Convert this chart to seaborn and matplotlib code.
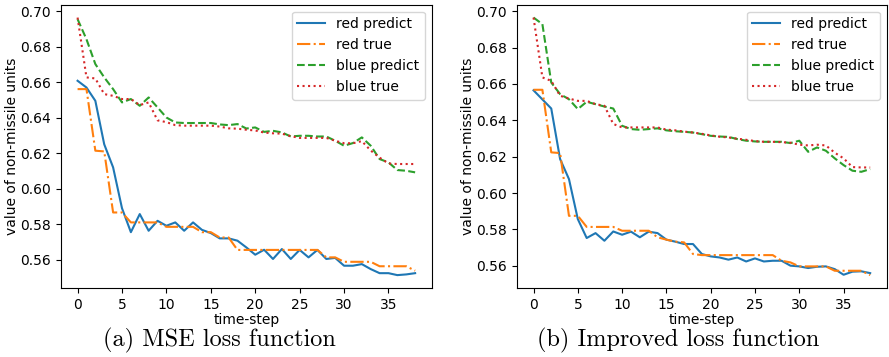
import numpy as np
import seaborn as sns
import matplotlib
matplotlib.use("Agg")
import matplotlib.pyplot as plt

steps = np.arange(39)
series_labels = ["red predict", "red true", "blue predict", "blue true"]

# (a) MSE loss function
red_predict_a = [0.6608, 0.6570, 0.6495, 0.6250, 0.6120, 0.5890, 0.5755, 0.5857, 0.5763, 0.5819,
                 0.5791, 0.5810, 0.5763, 0.5810, 0.5768, 0.5750, 0.5720, 0.5720, 0.5707, 0.5669,
                 0.5628, 0.5656, 0.5604, 0.5660, 0.5604, 0.5655, 0.5613, 0.5655, 0.5604, 0.5610,
                 0.5566, 0.5566, 0.5575, 0.5547, 0.5524, 0.5524, 0.5513, 0.5517, 0.5524]
red_true_a = [0.6561, 0.6561, 0.6214, 0.6210, 0.5866, 0.5866, 0.5810, 0.5810, 0.5810, 0.5810,
              0.5785, 0.5785, 0.5785, 0.5785, 0.5755, 0.5755, 0.5725, 0.5725, 0.5655, 0.5655,
              0.5655, 0.5655, 0.5655, 0.5655, 0.5655, 0.5655, 0.5655, 0.5655, 0.5613, 0.5613,
              0.5588, 0.5588, 0.5588, 0.5588, 0.5563, 0.5563, 0.5563, 0.5563, 0.5538]
blue_predict_a = [0.6955, 0.6842, 0.6702, 0.6627, 0.6561, 0.6486, 0.6505, 0.6467, 0.6514, 0.6458,
                  0.6401, 0.6373, 0.6370, 0.6370, 0.6370, 0.6370, 0.6362, 0.6358, 0.6364, 0.6339,
                  0.6345, 0.6320, 0.6326, 0.6317, 0.6294, 0.6298, 0.6298, 0.6294, 0.6294, 0.6270,
                  0.6242, 0.6257, 0.6289, 0.6242, 0.6167, 0.6148, 0.6105, 0.6101, 0.6092]
blue_true_a = [0.6964, 0.6627, 0.6621, 0.6533, 0.6523, 0.6505, 0.6505, 0.6471, 0.6486, 0.6385,
               0.6375, 0.6358, 0.6355, 0.6355, 0.6355, 0.6355, 0.6350, 0.6340, 0.6338, 0.6332,
               0.6328, 0.6316, 0.6312, 0.6310, 0.6296, 0.6286, 0.6286, 0.6286, 0.6286, 0.6270,
               0.6256, 0.6256, 0.6268, 0.6215, 0.6175, 0.6142, 0.6139, 0.6139, 0.6139]

# (b) Improved loss function
red_predict_b = [0.6565, 0.6515, 0.6465, 0.6187, 0.6077, 0.5857, 0.5753, 0.5780, 0.5738, 0.5789,
                 0.5771, 0.5788, 0.5757, 0.5788, 0.5780, 0.5744, 0.5733, 0.5720, 0.5720, 0.5665,
                 0.5652, 0.5646, 0.5634, 0.5646, 0.5624, 0.5641, 0.5624, 0.5628, 0.5628, 0.5601,
                 0.5597, 0.5588, 0.5595, 0.5597, 0.5582, 0.5551, 0.5568, 0.5570, 0.5560]
red_true_b = [0.6568, 0.6568, 0.6224, 0.6220, 0.5875, 0.5875, 0.5814, 0.5814, 0.5814, 0.5814,
              0.5793, 0.5793, 0.5793, 0.5793, 0.5757, 0.5744, 0.5733, 0.5729, 0.5665, 0.5659,
              0.5659, 0.5659, 0.5659, 0.5659, 0.5659, 0.5659, 0.5659, 0.5659, 0.5628, 0.5619,
              0.5597, 0.5597, 0.5597, 0.5597, 0.5573, 0.5573, 0.5573, 0.5573, 0.5549]
blue_predict_b = [0.6965, 0.6929, 0.6608, 0.6544, 0.6516, 0.6462, 0.6502, 0.6489, 0.6476, 0.6465,
                  0.6370, 0.6352, 0.6348, 0.6352, 0.6356, 0.6345, 0.6340, 0.6337, 0.6333, 0.6324,
                  0.6315, 0.6311, 0.6309, 0.6297, 0.6288, 0.6284, 0.6282, 0.6282, 0.6282, 0.6275,
                  0.6288, 0.6227, 0.6251, 0.6233, 0.6191, 0.6154, 0.6123, 0.6117, 0.6132]
blue_true_b = [0.6965, 0.6636, 0.6617, 0.6535, 0.6520, 0.6507, 0.6507, 0.6489, 0.6480, 0.6380,
               0.6361, 0.6361, 0.6361, 0.6361, 0.6361, 0.6349, 0.6345, 0.6338, 0.6333, 0.6326,
               0.6317, 0.6310, 0.6306, 0.6299, 0.6293, 0.6286, 0.6282, 0.6282, 0.6280, 0.6277,
               0.6266, 0.6262, 0.6266, 0.6262, 0.6222, 0.6191, 0.6143, 0.6141, 0.6141]

captions = ["(a) MSE loss function", "(b) Improved loss function"]

line_styles = ["-", "-.", "--", ":"]
line_colors = ["C0", "C1", "C2", "C3"]

plt.rcParams["font.size"] = 10
plt.rcParams["font.family"] = ["DejaVu Sans"]

fig = plt.figure(figsize=(8.89, 3.57), dpi=100)
W, H = 889, 357
ax_a = fig.add_axes([60.7 / W, (H - 288) / H, (432 - 60.7) / W, (288 - 4.7) / H])
ax_b = fig.add_axes([516.7 / W, (H - 288) / H, (887 - 516.7) / W, (288 - 4.7) / H])


def desenhar(ax, dados):
    for vals, lab, ls, cor in zip(dados, series_labels, line_styles, line_colors):
        sns.lineplot(x=steps, y=vals, ax=ax, label=lab, linestyle=ls, color=cor, linewidth=1.5)
    ax.set_xlabel("time-step", labelpad=1)
    ax.set_ylabel("value of non-missile units", labelpad=1)
    ax.set_xticks([0, 5, 10, 15, 20, 25, 30, 35])
    ax.legend(loc="upper right")


desenhar(ax_a, [red_predict_a, red_true_a, blue_predict_a, blue_true_a])
desenhar(ax_b, [red_predict_b, red_true_b, blue_predict_b, blue_true_b])

fig.text(219.5 / W, 1 - 340 / H, captions[0], ha="center", va="center",
         fontsize=17.5, family=["cmr10", "DejaVu Serif"])
fig.text(678 / W, 1 - 340 / H, captions[1], ha="center", va="center",
         fontsize=17.5, family=["cmr10", "DejaVu Serif"])

fig.savefig("out.png", dpi=100)
